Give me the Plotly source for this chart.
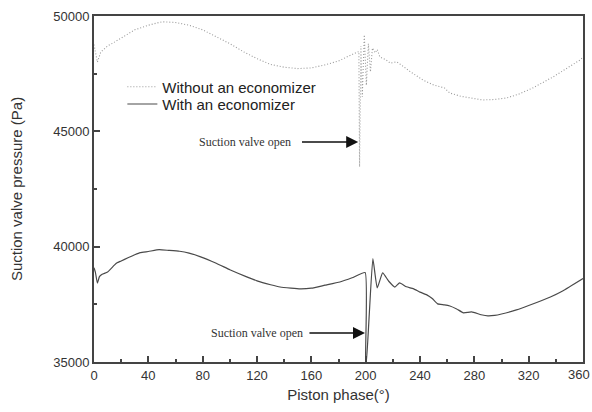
import plotly.graph_objects as go

# ---- data ----
phase_without = [0, 1, 2.5, 5, 10, 14, 20, 30, 34, 40, 50, 60, 70, 80, 90, 100, 110, 120,
                 130, 140, 150, 160, 170, 180, 190, 195, 195.5, 196.5, 197.5, 199, 200.5,
                 202, 203.5, 205, 207, 208.5, 210.5, 215, 218, 223, 228, 233, 242, 250,
                 258, 262, 270, 280, 286, 295, 304, 313, 323, 338, 350, 358, 360]
p_without = [48760, 48500, 48000, 48440, 48700, 48830, 49050, 49400, 49480, 49600, 49750,
             49720, 49600, 49400, 49100, 48800, 48450, 48150, 47900, 47780, 47720, 47750,
             47880, 48050, 48330, 48460, 43460, 48700, 46500, 49180, 47000, 48800, 47580,
             48610, 48400, 48550, 48220, 48100, 47960, 48010, 47800, 47580, 47230, 47010,
             46880, 46660, 46520, 46400, 46360, 46380, 46450, 46620, 46880, 47360, 47800,
             48100, 48220]

phase_with = [0, 1, 2.5, 4, 6, 10, 15, 17, 20, 25, 30, 34, 40, 48, 55, 63, 70, 78, 90, 100,
              112, 120, 130, 137, 145, 152, 160, 170, 181, 190, 199.6, 200, 200.4, 202.5,
              205.3, 208.5, 212.5, 217, 221.5, 225, 230, 235, 240, 245, 249, 253, 258,
              262, 267, 272, 278, 285, 290, 295, 300, 311, 320, 336, 345, 360]
p_with = [39090, 38900, 38420, 38700, 38800, 38900, 39200, 39300, 39380, 39520, 39650,
          39740, 39790, 39870, 39840, 39800, 39720, 39570, 39280, 39000, 38700, 38520,
          38350, 38250, 38200, 38170, 38200, 38330, 38470, 38650, 38880, 35000, 35000,
          36910, 39480, 38210, 38860, 38500, 38250, 38430, 38260, 38180, 38030, 37910,
          37750, 37520, 37480, 37430, 37300, 37130, 37170, 37050, 37000, 37020, 37080,
          37260, 37450, 37820, 38080, 38620]

x_ticks = [0, 40, 80, 120, 160, 200, 240, 280, 320, 360]
y_ticks = [35000, 40000, 45000, 50000]
y_tick_labels = ["35000", "40000", "45000", "50000"]
annot_text = "Suction valve open"

fig = go.Figure()
fig.add_trace(go.Scatter(x=phase_without, y=p_without, mode="lines",
                         name="Without an economizer", legend="legend",
                         line=dict(color="#999999", width=1.1, dash="1px,2px")))
fig.add_trace(go.Scatter(x=phase_with, y=p_with, mode="lines",
                         name="With an economizer", legend="legend2",
                         line=dict(color="#4a4a4a", width=1.2, shape="spline", smoothing=0.4)))

tick_font = dict(family="Liberation Sans", size=13, color="#333")
axis_common = dict(showline=True, linecolor="#444", linewidth=2, mirror=True,
                   ticks="inside", tickcolor="#444", tickwidth=1.5, ticklen=6,
                   showgrid=False, zeroline=False, automargin=False,
                   tickfont=tick_font)

fig.update_xaxes(range=[0, 360], tickvals=x_ticks,
                 minor=dict(dtick=20, ticks="inside", ticklen=3, tickcolor="#444", tickwidth=1.5),
                 title=dict(text="Piston phase(°)", standoff=8,
                            font=dict(family="Liberation Sans", size=15, color="#333")),
                 **axis_common)
fig.update_yaxes(range=[35000, 50000], tickvals=y_ticks, ticktext=y_tick_labels,
                 minor=dict(dtick=2500, ticks="inside", ticklen=3, tickcolor="#444", tickwidth=1.5),
                 title=dict(text="Suction valve pressure (Pa)", standoff=27,
                            font=dict(family="Liberation Sans", size=15, color="#333")),
                 **axis_common)

# last x tick label (at the right edge of the figure)
fig.add_annotation(x=x_ticks[-1], y=0, xref="x", yref="paper", yanchor="top", yshift=-3,
                   xshift=-4, text=str(x_ticks[-1]), showarrow=False, font=tick_font)

# upper annotation (without economizer)
fig.add_annotation(x=194.5, y=44540, ax=152, ay=44540, axref="x", ayref="y",
                   text="", showarrow=True, arrowhead=2, arrowsize=1.6, arrowwidth=1.5,
                   arrowcolor="#111")
fig.add_annotation(x=111.5, y=44540, text=annot_text, showarrow=False,
                   font=dict(family="Liberation Serif", size=12, color="#333"))
# lower annotation (with economizer)
fig.add_annotation(x=199.5, y=36260, ax=157.5, ay=36260, axref="x", ayref="y",
                   text="", showarrow=True, arrowhead=2, arrowsize=1.6, arrowwidth=1.5,
                   arrowcolor="#111")
fig.add_annotation(x=120, y=36260, text=annot_text, showarrow=False,
                   font=dict(family="Liberation Serif", size=12, color="#333"))

legend_font = dict(family="Liberation Sans", size=15, color="#222")
fig.update_layout(
    width=592, height=412,
    margin=dict(l=94, r=9, t=16, b=50),
    paper_bgcolor="white", plot_bgcolor="white",
    showlegend=True,
    legend=dict(x=0.058, y=0.795, xanchor="left", yanchor="middle",
                bgcolor="rgba(0,0,0,0)", font=legend_font, itemwidth=30),
    legend2=dict(x=0.058, y=0.745, xanchor="left", yanchor="middle",
                 bgcolor="rgba(0,0,0,0)", font=legend_font, itemwidth=30),
)

fig.write_html("out.html")
